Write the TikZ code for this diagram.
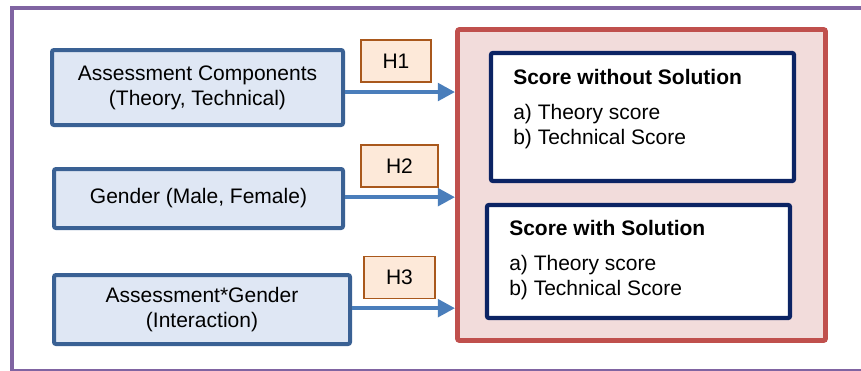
\documentclass[tikz,border=0pt]{standalone}
\usepackage{fontspec}
\setmainfont{Liberation Sans}
\usetikzlibrary{arrows.meta}

\definecolor{framepurple}{HTML}{8064A2}
\definecolor{factorline}{HTML}{3A6194}
\definecolor{factorfill}{HTML}{DFE7F4}
\definecolor{hypline}{HTML}{A9581C}
\definecolor{hypfill}{HTML}{FDE9D9}
\definecolor{arrowblue}{HTML}{4A7EBB}
\definecolor{scorered}{HTML}{C0504D}
\definecolor{scorefill}{HTML}{F2DCDB}
\definecolor{scorenavy}{HTML}{0C2464}

\tikzset{
	factorbox/.style={draw=factorline, fill=factorfill, line width=3pt, rounded corners=1.5pt, align=center, inner sep=0pt},
	hypbox/.style={draw=hypline, fill=hypfill, line width=1.1pt, inner sep=0pt, minimum height=31.5pt},
	outcomebox/.style={draw=scorered, fill=scorefill, line width=3.6pt, rounded corners=1.5pt, inner sep=0pt},
	scorebox/.style={draw=scorenavy, fill=white, line width=3.2pt, rounded corners=1.5pt, inner sep=0pt, minimum width=227.25pt},
	scoretext/.style={anchor=west, align=left, inner sep=0pt},
	hyparrow/.style={draw=arrowblue, line width=3.4pt, -{Triangle[length=13pt, width=13pt]}}
}

\begin{document}
\begin{tikzpicture}[x=0.75pt, y=-0.75pt, font=\fontsize{15.75}{18.75}\selectfont]
		\useasboundingbox (0,0) rectangle (861,371);
		\clip (0,0) rectangle (861,371);

		% outer frame
		\draw[framepurple, line width=3pt] (12,8) rectangle (900,371);

		% factors
		\node[factorbox, minimum width=218.25pt, minimum height=56.25pt] (comp) at (197.5,87.5) {Assessment Components\\(Theory, Technical)};
		\node[factorbox, minimum width=216.75pt, minimum height=44.25pt] (gender) at (198.5,198.5) {Gender (Male, Female)};
		\node[factorbox, minimum width=222pt, minimum height=51.75pt] (inter) at (202,309.5) {Assessment*Gender\\(Interaction)};

		% outcomes
		\node[outcomebox, minimum width=276pt, minimum height=233.25pt] (outcome) at (641.5,185) {};

		\node[scorebox, minimum height=96pt] (nosol) at (642.5,117) {};
		\node[scoretext, font=\fontsize{15.75}{18.75}\selectfont\bfseries] (nosoltitle) at (513,77) {Score without Solution};
		\node[scoretext] (nosolitems) at (513,126.5) {a) Theory score\\b) Technical Score};

		\node[scorebox, minimum height=84.75pt] (withsol) at (638.5,261.5) {};
		\node[scoretext, font=\fontsize{15.75}{18.75}\selectfont\bfseries] (withsoltitle) at (509,228) {Score with Solution};
		\node[scoretext] (withsolitems) at (509,277.5) {a) Theory score\\b) Technical Score};

		% hypotheses
		\draw[hyparrow] ([yshift=-3.4pt]comp.east) -- ([yshift=-3.4pt]comp.east -| outcome.west);
		\draw[hyparrow] ([yshift=1pt]gender.east) -- ([yshift=1pt]gender.east -| outcome.west);
		\draw[hyparrow] ([yshift=1pt]inter.east) -- ([yshift=1pt]inter.east -| outcome.west);

		\node[hypbox, minimum width=52.5pt] (h1) at (396,61) {H1};
		\node[hypbox, minimum width=57.75pt] (h2) at (399.5,166) {H2};
		\node[hypbox, minimum width=53.25pt] (h3) at (399.5,277.5) {H3};
	\end{tikzpicture}
\end{document}
